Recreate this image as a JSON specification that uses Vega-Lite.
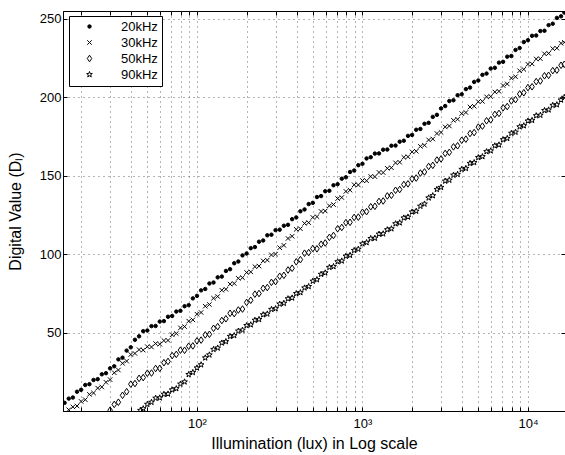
{
"$schema": "https://vega.github.io/schema/vega-lite/v6.json",
"width": 502, "height": 400,
"autosize": "none",
"padding": {"left": 63, "top": 11, "right": 0, "bottom": 44},
"background": "white",
"config": {"font": "Liberation Sans", "view": {"stroke": "black", "strokeWidth": 1}},
"data": {"values": [
{"s":"20kHz","x":15.85,"y":5.2},{"s":"20kHz","x":16.79,"y":7.9},{"s":"20kHz","x":17.78,"y":8.6},{"s":"20kHz","x":18.84,"y":12.3},{"s":"20kHz","x":19.95,"y":13.5},{"s":"20kHz","x":21.13,"y":16.6},{"s":"20kHz","x":22.39,"y":17.1},{"s":"20kHz","x":23.71,"y":19.8},{"s":"20kHz","x":25.12,"y":20.3},{"s":"20kHz","x":26.61,"y":23.4},{"s":"20kHz","x":28.18,"y":24.1},{"s":"20kHz","x":29.85,"y":27.2},{"s":"20kHz","x":31.62,"y":28.5},{"s":"20kHz","x":33.5,"y":32.9},{"s":"20kHz","x":35.48,"y":34.0},{"s":"20kHz","x":37.58,"y":38.5},{"s":"20kHz","x":39.81,"y":40.6},{"s":"20kHz","x":42.17,"y":45.4},{"s":"20kHz","x":44.67,"y":47.6},{"s":"20kHz","x":47.32,"y":50.9},{"s":"20kHz","x":50.12,"y":51.3},{"s":"20kHz","x":53.09,"y":54.1},{"s":"20kHz","x":56.23,"y":54.2},{"s":"20kHz","x":59.57,"y":57.0},{"s":"20kHz","x":63.1,"y":57.3},{"s":"20kHz","x":66.83,"y":60.1},{"s":"20kHz","x":70.79,"y":60.6},{"s":"20kHz","x":74.99,"y":63.4},{"s":"20kHz","x":79.43,"y":63.9},{"s":"20kHz","x":84.14,"y":66.8},{"s":"20kHz","x":89.13,"y":67.5},{"s":"20kHz","x":94.41,"y":71.8},{"s":"20kHz","x":100,"y":73.4},{"s":"20kHz","x":105.9,"y":76.9},{"s":"20kHz","x":112.2,"y":77.8},{"s":"20kHz","x":118.9,"y":81.3},{"s":"20kHz","x":125.9,"y":81.9},{"s":"20kHz","x":133.4,"y":85.2},{"s":"20kHz","x":141.3,"y":85.7},{"s":"20kHz","x":149.6,"y":89.3},{"s":"20kHz","x":158.5,"y":90.4},{"s":"20kHz","x":167.9,"y":94.2},{"s":"20kHz","x":177.8,"y":95.3},{"s":"20kHz","x":188.4,"y":99.2},{"s":"20kHz","x":199.5,"y":100.4},{"s":"20kHz","x":211.3,"y":103.8},{"s":"20kHz","x":223.9,"y":104.5},{"s":"20kHz","x":237.1,"y":107.9},{"s":"20kHz","x":251.2,"y":108.7},{"s":"20kHz","x":266.1,"y":112.0},{"s":"20kHz","x":281.8,"y":112.4},{"s":"20kHz","x":298.5,"y":115.3},{"s":"20kHz","x":316.2,"y":115.6},{"s":"20kHz","x":335.0,"y":118.1},{"s":"20kHz","x":354.8,"y":118.7},{"s":"20kHz","x":375.8,"y":122.3},{"s":"20kHz","x":398.1,"y":123.4},{"s":"20kHz","x":421.7,"y":127.3},{"s":"20kHz","x":446.7,"y":128.5},{"s":"20kHz","x":473.2,"y":131.9},{"s":"20kHz","x":501.2,"y":132.7},{"s":"20kHz","x":530.9,"y":136.4},{"s":"20kHz","x":562.3,"y":137.0},{"s":"20kHz","x":595.7,"y":140.1},{"s":"20kHz","x":631.0,"y":140.4},{"s":"20kHz","x":668.3,"y":143.9},{"s":"20kHz","x":707.9,"y":144.6},{"s":"20kHz","x":749.9,"y":148.1},{"s":"20kHz","x":794.3,"y":149.0},{"s":"20kHz","x":841.4,"y":152.4},{"s":"20kHz","x":891.3,"y":153.3},{"s":"20kHz","x":944.1,"y":156.7},{"s":"20kHz","x":1000,"y":157.6},{"s":"20kHz","x":1059,"y":161.0},{"s":"20kHz","x":1122,"y":161.8},{"s":"20kHz","x":1189,"y":164.1},{"s":"20kHz","x":1259,"y":164.2},{"s":"20kHz","x":1334,"y":166.6},{"s":"20kHz","x":1413,"y":166.7},{"s":"20kHz","x":1496,"y":169.1},{"s":"20kHz","x":1585,"y":169.2},{"s":"20kHz","x":1679,"y":171.7},{"s":"20kHz","x":1778,"y":172.3},{"s":"20kHz","x":1884,"y":175.4},{"s":"20kHz","x":1995,"y":176.0},{"s":"20kHz","x":2113,"y":179.3},{"s":"20kHz","x":2239,"y":179.8},{"s":"20kHz","x":2371,"y":183.1},{"s":"20kHz","x":2512,"y":183.7},{"s":"20kHz","x":2661,"y":187.5},{"s":"20kHz","x":2818,"y":188.8},{"s":"20kHz","x":2985,"y":192.9},{"s":"20kHz","x":3162,"y":194.4},{"s":"20kHz","x":3350,"y":197.6},{"s":"20kHz","x":3548,"y":198.1},{"s":"20kHz","x":3758,"y":201.3},{"s":"20kHz","x":3981,"y":201.9},{"s":"20kHz","x":4217,"y":205.2},{"s":"20kHz","x":4467,"y":206.2},{"s":"20kHz","x":4732,"y":209.8},{"s":"20kHz","x":5012,"y":210.7},{"s":"20kHz","x":5309,"y":214.3},{"s":"20kHz","x":5623,"y":215.1},{"s":"20kHz","x":5957,"y":218.3},{"s":"20kHz","x":6310,"y":218.8},{"s":"20kHz","x":6683,"y":222.1},{"s":"20kHz","x":7079,"y":222.6},{"s":"20kHz","x":7499,"y":225.9},{"s":"20kHz","x":7943,"y":226.3},{"s":"20kHz","x":8414,"y":230.2},{"s":"20kHz","x":8913,"y":231.4},{"s":"20kHz","x":9441,"y":235.2},{"s":"20kHz","x":10000,"y":236.4},{"s":"20kHz","x":10593,"y":239.2},{"s":"20kHz","x":11220,"y":239.4},{"s":"20kHz","x":11885,"y":242.2},{"s":"20kHz","x":12589,"y":242.4},{"s":"20kHz","x":13335,"y":246.0},{"s":"20kHz","x":14125,"y":246.9},{"s":"20kHz","x":14962,"y":250.6},{"s":"20kHz","x":15849,"y":251.6},{"s":"20kHz","x":16596,"y":254.0},
{"s":"30kHz","x":16.79,"y":0.8},{"s":"30kHz","x":17.78,"y":2.6},{"s":"30kHz","x":18.84,"y":3.2},{"s":"30kHz","x":19.95,"y":6.1},{"s":"30kHz","x":21.13,"y":7.2},{"s":"30kHz","x":22.39,"y":10.6},{"s":"30kHz","x":23.71,"y":11.5},{"s":"30kHz","x":25.12,"y":14.6},{"s":"30kHz","x":26.61,"y":15.3},{"s":"30kHz","x":28.18,"y":18.3},{"s":"30kHz","x":29.85,"y":20.0},{"s":"30kHz","x":31.62,"y":24.4},{"s":"30kHz","x":33.5,"y":26.1},{"s":"30kHz","x":35.48,"y":30.4},{"s":"30kHz","x":37.58,"y":31.8},{"s":"30kHz","x":39.81,"y":36.0},{"s":"30kHz","x":42.17,"y":36.7},{"s":"30kHz","x":44.67,"y":39.1},{"s":"30kHz","x":47.32,"y":38.8},{"s":"30kHz","x":50.12,"y":41.0},{"s":"30kHz","x":53.09,"y":40.8},{"s":"30kHz","x":56.23,"y":43.0},{"s":"30kHz","x":59.57,"y":42.6},{"s":"30kHz","x":63.1,"y":44.9},{"s":"30kHz","x":66.83,"y":45.0},{"s":"30kHz","x":70.79,"y":48.6},{"s":"30kHz","x":74.99,"y":49.4},{"s":"30kHz","x":79.43,"y":53.0},{"s":"30kHz","x":84.14,"y":53.8},{"s":"30kHz","x":89.13,"y":57.3},{"s":"30kHz","x":94.41,"y":58.1},{"s":"30kHz","x":100,"y":61.7},{"s":"30kHz","x":105.9,"y":62.8},{"s":"30kHz","x":112.2,"y":66.8},{"s":"30kHz","x":118.9,"y":67.9},{"s":"30kHz","x":125.9,"y":71.9},{"s":"30kHz","x":133.4,"y":73.0},{"s":"30kHz","x":141.3,"y":77.0},{"s":"30kHz","x":149.6,"y":77.6},{"s":"30kHz","x":158.5,"y":80.9},{"s":"30kHz","x":167.9,"y":81.3},{"s":"30kHz","x":177.8,"y":84.6},{"s":"30kHz","x":188.4,"y":85.0},{"s":"30kHz","x":199.5,"y":88.3},{"s":"30kHz","x":211.3,"y":88.7},{"s":"30kHz","x":223.9,"y":92.0},{"s":"30kHz","x":237.1,"y":92.4},{"s":"30kHz","x":251.2,"y":95.7},{"s":"30kHz","x":266.1,"y":96.2},{"s":"30kHz","x":281.8,"y":99.5},{"s":"30kHz","x":298.5,"y":100.0},{"s":"30kHz","x":316.2,"y":104.1},{"s":"30kHz","x":335.0,"y":105.6},{"s":"30kHz","x":354.8,"y":110.0},{"s":"30kHz","x":375.8,"y":111.4},{"s":"30kHz","x":398.1,"y":115.8},{"s":"30kHz","x":421.7,"y":116.2},{"s":"30kHz","x":446.7,"y":119.6},{"s":"30kHz","x":473.2,"y":120.1},{"s":"30kHz","x":501.2,"y":123.4},{"s":"30kHz","x":530.9,"y":123.9},{"s":"30kHz","x":562.3,"y":127.2},{"s":"30kHz","x":595.7,"y":127.5},{"s":"30kHz","x":631.0,"y":130.8},{"s":"30kHz","x":668.3,"y":131.6},{"s":"30kHz","x":707.9,"y":135.4},{"s":"30kHz","x":749.9,"y":136.1},{"s":"30kHz","x":794.3,"y":140.0},{"s":"30kHz","x":841.4,"y":140.8},{"s":"30kHz","x":891.3,"y":144.2},{"s":"30kHz","x":944.1,"y":144.1},{"s":"30kHz","x":1000,"y":146.9},{"s":"30kHz","x":1059,"y":146.8},{"s":"30kHz","x":1122,"y":149.5},{"s":"30kHz","x":1189,"y":149.4},{"s":"30kHz","x":1259,"y":152.1},{"s":"30kHz","x":1334,"y":152.0},{"s":"30kHz","x":1413,"y":154.7},{"s":"30kHz","x":1496,"y":155.1},{"s":"30kHz","x":1585,"y":158.2},{"s":"30kHz","x":1679,"y":158.6},{"s":"30kHz","x":1778,"y":161.7},{"s":"30kHz","x":1884,"y":162.1},{"s":"30kHz","x":1995,"y":165.2},{"s":"30kHz","x":2113,"y":165.6},{"s":"30kHz","x":2239,"y":168.7},{"s":"30kHz","x":2371,"y":169.4},{"s":"30kHz","x":2512,"y":172.8},{"s":"30kHz","x":2661,"y":173.4},{"s":"30kHz","x":2818,"y":176.9},{"s":"30kHz","x":2985,"y":177.6},{"s":"30kHz","x":3162,"y":181.1},{"s":"30kHz","x":3350,"y":181.7},{"s":"30kHz","x":3548,"y":185.3},{"s":"30kHz","x":3758,"y":186.0},{"s":"30kHz","x":3981,"y":189.6},{"s":"30kHz","x":4217,"y":190.3},{"s":"30kHz","x":4467,"y":193.8},{"s":"30kHz","x":4732,"y":194.3},{"s":"30kHz","x":5012,"y":197.2},{"s":"30kHz","x":5309,"y":197.4},{"s":"30kHz","x":5623,"y":200.3},{"s":"30kHz","x":5957,"y":200.5},{"s":"30kHz","x":6310,"y":203.4},{"s":"30kHz","x":6683,"y":203.8},{"s":"30kHz","x":7079,"y":207.5},{"s":"30kHz","x":7499,"y":208.5},{"s":"30kHz","x":7943,"y":212.2},{"s":"30kHz","x":8414,"y":213.1},{"s":"30kHz","x":8913,"y":216.9},{"s":"30kHz","x":9441,"y":217.8},{"s":"30kHz","x":10000,"y":221.0},{"s":"30kHz","x":10593,"y":221.3},{"s":"30kHz","x":11220,"y":224.4},{"s":"30kHz","x":11885,"y":224.6},{"s":"30kHz","x":12589,"y":227.7},{"s":"30kHz","x":13335,"y":228.0},{"s":"30kHz","x":14125,"y":231.0},{"s":"30kHz","x":14962,"y":231.3},{"s":"30kHz","x":15849,"y":234.4},{"s":"30kHz","x":16596,"y":235.0},
{"s":"50kHz","x":29.85,"y":0.5},{"s":"50kHz","x":31.62,"y":4.2},{"s":"50kHz","x":33.5,"y":5.6},{"s":"50kHz","x":35.48,"y":10.0},{"s":"50kHz","x":37.58,"y":12.3},{"s":"50kHz","x":39.81,"y":17.1},{"s":"50kHz","x":42.17,"y":17.5},{"s":"50kHz","x":44.67,"y":20.8},{"s":"50kHz","x":47.32,"y":21.3},{"s":"50kHz","x":50.12,"y":24.1},{"s":"50kHz","x":53.09,"y":24.2},{"s":"50kHz","x":56.23,"y":27.1},{"s":"50kHz","x":59.57,"y":27.2},{"s":"50kHz","x":63.1,"y":30.8},{"s":"50kHz","x":66.83,"y":31.6},{"s":"50kHz","x":70.79,"y":35.3},{"s":"50kHz","x":74.99,"y":36.1},{"s":"50kHz","x":79.43,"y":38.8},{"s":"50kHz","x":84.14,"y":38.7},{"s":"50kHz","x":89.13,"y":41.3},{"s":"50kHz","x":94.41,"y":41.5},{"s":"50kHz","x":100,"y":44.7},{"s":"50kHz","x":105.9,"y":45.2},{"s":"50kHz","x":112.2,"y":48.5},{"s":"50kHz","x":118.9,"y":48.9},{"s":"50kHz","x":125.9,"y":52.7},{"s":"50kHz","x":133.4,"y":53.8},{"s":"50kHz","x":141.3,"y":57.7},{"s":"50kHz","x":149.6,"y":58.8},{"s":"50kHz","x":158.5,"y":62.3},{"s":"50kHz","x":167.9,"y":62.1},{"s":"50kHz","x":177.8,"y":64.4},{"s":"50kHz","x":188.4,"y":65.0},{"s":"50kHz","x":199.5,"y":69.2},{"s":"50kHz","x":211.3,"y":70.6},{"s":"50kHz","x":223.9,"y":74.5},{"s":"50kHz","x":237.1,"y":74.9},{"s":"50kHz","x":251.2,"y":78.2},{"s":"50kHz","x":266.1,"y":78.7},{"s":"50kHz","x":281.8,"y":82.0},{"s":"50kHz","x":298.5,"y":82.5},{"s":"50kHz","x":316.2,"y":85.9},{"s":"50kHz","x":335.0,"y":86.5},{"s":"50kHz","x":354.8,"y":89.9},{"s":"50kHz","x":375.8,"y":91.0},{"s":"50kHz","x":398.1,"y":95.1},{"s":"50kHz","x":421.7,"y":96.5},{"s":"50kHz","x":446.7,"y":100.6},{"s":"50kHz","x":473.2,"y":101.0},{"s":"50kHz","x":501.2,"y":103.6},{"s":"50kHz","x":530.9,"y":103.4},{"s":"50kHz","x":562.3,"y":106.3},{"s":"50kHz","x":595.7,"y":107.1},{"s":"50kHz","x":631.0,"y":110.7},{"s":"50kHz","x":668.3,"y":111.9},{"s":"50kHz","x":707.9,"y":116.2},{"s":"50kHz","x":749.9,"y":117.0},{"s":"50kHz","x":794.3,"y":120.1},{"s":"50kHz","x":841.4,"y":120.3},{"s":"50kHz","x":891.3,"y":123.4},{"s":"50kHz","x":944.1,"y":123.6},{"s":"50kHz","x":1000,"y":126.7},{"s":"50kHz","x":1059,"y":127.1},{"s":"50kHz","x":1122,"y":130.2},{"s":"50kHz","x":1189,"y":130.5},{"s":"50kHz","x":1259,"y":133.6},{"s":"50kHz","x":1334,"y":133.9},{"s":"50kHz","x":1413,"y":137.1},{"s":"50kHz","x":1496,"y":137.5},{"s":"50kHz","x":1585,"y":140.7},{"s":"50kHz","x":1679,"y":141.2},{"s":"50kHz","x":1778,"y":144.4},{"s":"50kHz","x":1884,"y":144.8},{"s":"50kHz","x":1995,"y":148.0},{"s":"50kHz","x":2113,"y":148.5},{"s":"50kHz","x":2239,"y":151.7},{"s":"50kHz","x":2371,"y":152.4},{"s":"50kHz","x":2512,"y":155.9},{"s":"50kHz","x":2661,"y":156.6},{"s":"50kHz","x":2818,"y":160.0},{"s":"50kHz","x":2985,"y":160.7},{"s":"50kHz","x":3162,"y":164.2},{"s":"50kHz","x":3350,"y":164.9},{"s":"50kHz","x":3548,"y":168.4},{"s":"50kHz","x":3758,"y":169.1},{"s":"50kHz","x":3981,"y":172.6},{"s":"50kHz","x":4217,"y":173.3},{"s":"50kHz","x":4467,"y":176.9},{"s":"50kHz","x":4732,"y":177.5},{"s":"50kHz","x":5012,"y":181.0},{"s":"50kHz","x":5309,"y":181.6},{"s":"50kHz","x":5623,"y":185.0},{"s":"50kHz","x":5957,"y":185.6},{"s":"50kHz","x":6310,"y":189.1},{"s":"50kHz","x":6683,"y":189.7},{"s":"50kHz","x":7079,"y":193.3},{"s":"50kHz","x":7499,"y":194.1},{"s":"50kHz","x":7943,"y":197.7},{"s":"50kHz","x":8414,"y":198.5},{"s":"50kHz","x":8913,"y":202.1},{"s":"50kHz","x":9441,"y":202.9},{"s":"50kHz","x":10000,"y":206.2},{"s":"50kHz","x":10593,"y":206.7},{"s":"50kHz","x":11220,"y":210.0},{"s":"50kHz","x":11885,"y":210.4},{"s":"50kHz","x":12589,"y":213.7},{"s":"50kHz","x":13335,"y":214.0},{"s":"50kHz","x":14125,"y":217.0},{"s":"50kHz","x":14962,"y":217.3},{"s":"50kHz","x":15849,"y":220.4},{"s":"50kHz","x":16596,"y":221.0},
{"s":"90kHz","x":45.5,"y":0.4},{"s":"90kHz","x":47.32,"y":1.5},{"s":"90kHz","x":50.12,"y":4.3},{"s":"90kHz","x":53.09,"y":5.6},{"s":"90kHz","x":56.23,"y":8.2},{"s":"90kHz","x":59.57,"y":8.4},{"s":"90kHz","x":63.1,"y":10.7},{"s":"90kHz","x":66.83,"y":10.9},{"s":"90kHz","x":70.79,"y":13.5},{"s":"90kHz","x":74.99,"y":14.3},{"s":"90kHz","x":79.43,"y":17.2},{"s":"90kHz","x":84.14,"y":18.6},{"s":"90kHz","x":89.13,"y":23.3},{"s":"90kHz","x":94.41,"y":24.6},{"s":"90kHz","x":100,"y":27.5},{"s":"90kHz","x":105.9,"y":29.5},{"s":"90kHz","x":112.2,"y":33.9},{"s":"90kHz","x":118.9,"y":35.8},{"s":"90kHz","x":125.9,"y":39.3},{"s":"90kHz","x":133.4,"y":40.2},{"s":"90kHz","x":141.3,"y":43.4},{"s":"90kHz","x":149.6,"y":44.3},{"s":"90kHz","x":158.5,"y":47.6},{"s":"90kHz","x":167.9,"y":48.1},{"s":"90kHz","x":177.8,"y":51.0},{"s":"90kHz","x":188.4,"y":51.6},{"s":"90kHz","x":199.5,"y":54.5},{"s":"90kHz","x":211.3,"y":55.0},{"s":"90kHz","x":223.9,"y":57.9},{"s":"90kHz","x":237.1,"y":58.4},{"s":"90kHz","x":251.2,"y":61.4},{"s":"90kHz","x":266.1,"y":61.9},{"s":"90kHz","x":281.8,"y":64.8},{"s":"90kHz","x":298.5,"y":65.3},{"s":"90kHz","x":316.2,"y":68.2},{"s":"90kHz","x":335.0,"y":68.7},{"s":"90kHz","x":354.8,"y":71.6},{"s":"90kHz","x":375.8,"y":72.1},{"s":"90kHz","x":398.1,"y":74.9},{"s":"90kHz","x":421.7,"y":75.5},{"s":"90kHz","x":446.7,"y":78.5},{"s":"90kHz","x":473.2,"y":79.4},{"s":"90kHz","x":501.2,"y":82.8},{"s":"90kHz","x":530.9,"y":83.8},{"s":"90kHz","x":562.3,"y":87.2},{"s":"90kHz","x":595.7,"y":88.1},{"s":"90kHz","x":631.0,"y":91.6},{"s":"90kHz","x":668.3,"y":92.1},{"s":"90kHz","x":707.9,"y":95.2},{"s":"90kHz","x":749.9,"y":95.7},{"s":"90kHz","x":794.3,"y":98.7},{"s":"90kHz","x":841.4,"y":99.3},{"s":"90kHz","x":891.3,"y":102.4},{"s":"90kHz","x":944.1,"y":103.2},{"s":"90kHz","x":1000,"y":106.6},{"s":"90kHz","x":1059,"y":107.4},{"s":"90kHz","x":1122,"y":110.0},{"s":"90kHz","x":1189,"y":110.2},{"s":"90kHz","x":1259,"y":112.8},{"s":"90kHz","x":1334,"y":113.0},{"s":"90kHz","x":1413,"y":115.6},{"s":"90kHz","x":1496,"y":116.2},{"s":"90kHz","x":1585,"y":119.4},{"s":"90kHz","x":1679,"y":120.0},{"s":"90kHz","x":1778,"y":123.1},{"s":"90kHz","x":1884,"y":123.7},{"s":"90kHz","x":1995,"y":126.9},{"s":"90kHz","x":2113,"y":127.4},{"s":"90kHz","x":2239,"y":130.6},{"s":"90kHz","x":2371,"y":132.0},{"s":"90kHz","x":2512,"y":135.9},{"s":"90kHz","x":2661,"y":137.3},{"s":"90kHz","x":2818,"y":141.3},{"s":"90kHz","x":2985,"y":142.6},{"s":"90kHz","x":3162,"y":146.6},{"s":"90kHz","x":3350,"y":147.2},{"s":"90kHz","x":3548,"y":150.4},{"s":"90kHz","x":3758,"y":150.9},{"s":"90kHz","x":3981,"y":154.1},{"s":"90kHz","x":4217,"y":154.7},{"s":"90kHz","x":4467,"y":157.9},{"s":"90kHz","x":4732,"y":158.4},{"s":"90kHz","x":5012,"y":161.6},{"s":"90kHz","x":5309,"y":162.2},{"s":"90kHz","x":5623,"y":165.4},{"s":"90kHz","x":5957,"y":165.9},{"s":"90kHz","x":6310,"y":169.1},{"s":"90kHz","x":6683,"y":169.7},{"s":"90kHz","x":7079,"y":173.0},{"s":"90kHz","x":7499,"y":173.8},{"s":"90kHz","x":7943,"y":177.1},{"s":"90kHz","x":8414,"y":177.8},{"s":"90kHz","x":8913,"y":181.2},{"s":"90kHz","x":9441,"y":181.9},{"s":"90kHz","x":10000,"y":184.9},{"s":"90kHz","x":10593,"y":185.3},{"s":"90kHz","x":11220,"y":188.3},{"s":"90kHz","x":11885,"y":188.6},{"s":"90kHz","x":12589,"y":191.6},{"s":"90kHz","x":13335,"y":192.0},{"s":"90kHz","x":14125,"y":194.9},{"s":"90kHz","x":14962,"y":195.3},{"s":"90kHz","x":15849,"y":198.3},{"s":"90kHz","x":16596,"y":200.0}
]},
"layer": [
{
"mark": {"type": "point", "strokeWidth": 1, "opacity": 1, "clip": true},
"encoding": {
  "x": {"field": "x", "type": "quantitative",
    "scale": {"type": "log", "domain": [15.5, 16750], "nice": false},
    "axis": {"title": "Illumination (lux) in Log scale", "titleFontSize": 16, "titleFontWeight": "normal", "titleColor": "black", "titlePadding": 5,
      "values": [20,30,40,50,60,70,80,90,100,200,300,400,500,600,700,800,900,1000,2000,3000,4000,5000,6000,7000,8000,9000,10000],
      "labelExpr": "datum.value == 100 ? '10²' : datum.value == 1000 ? '10³' : datum.value == 10000 ? '10⁴' : ''",
      "labelFontSize": 13, "labelColor": "black", "labelPadding": 10, "labelFlush": false, "labelOverlap": false,
      "tickSize": -4, "tickColor": "black", "domainColor": "black",
      "grid": true, "gridColor": "#444", "gridDash": [1, 4], "gridWidth": 0.8}},
  "y": {"field": "y", "type": "quantitative",
    "scale": {"domain": [0, 255], "nice": false},
    "axis": {"title": "Digital Value (Dₗ)", "titleFontSize": 16, "titleFontWeight": "normal", "titleColor": "black", "titlePadding": 16,
      "values": [50, 100, 150, 200, 250],
      "labelFontSize": 13, "labelColor": "black", "labelPadding": 6,
      "tickSize": -4, "tickColor": "black", "domainColor": "black",
      "grid": true, "gridColor": "#444", "gridDash": [1, 4], "gridWidth": 0.8}},
  "shape": {"field": "s", "type": "nominal",
    "scale": {"domain": ["20kHz", "30kHz", "50kHz", "90kHz"],
      "range": ["circle", "M-1,-1L1,1M-1,1L1,-1", "M0,-1.25L0.85,0L0,1.25L-0.85,0Z", "M0,-1L0.235,-0.324L0.951,-0.309L0.38,0.124L0.588,0.809L0,0.4L-0.588,0.809L-0.38,0.124L-0.951,-0.309L-0.235,-0.324Z"]},
    "legend": {"title": null, "orient": "none", "legendX": 6, "legendY": 5, "direction": "vertical",
      "strokeColor": "black", "fillColor": "white", "padding": 4, "labelFontSize": 13, "labelColor": "black",
      "symbolStrokeColor": "black", "symbolStrokeWidth": 1, "symbolOffset": 10, "labelOffset": 25, "rowPadding": 2}},
  "fill": {"field": "s", "type": "nominal",
    "scale": {"domain": ["20kHz", "30kHz", "50kHz", "90kHz"], "range": ["black", "transparent", "transparent", "transparent"]}},
  "size": {"field": "s", "type": "nominal",
    "scale": {"domain": ["20kHz", "30kHz", "50kHz", "90kHz"], "range": [12, 36, 50, 60]}},
  "stroke": {"value": "black"}
}
},
{
"mark": {"type": "point", "opacity": 0},
"encoding": {
  "x": {"field": "x", "type": "quantitative",
    "axis": {"orient": "top", "title": null, "labels": false, "grid": false, "domain": false,
      "values": [20,30,40,50,60,70,80,90,100,200,300,400,500,600,700,800,900,1000,2000,3000,4000,5000,6000,7000,8000,9000,10000],
      "tickSize": -4, "tickColor": "black"}},
  "y": {"field": "y", "type": "quantitative",
    "axis": {"orient": "right", "title": null, "labels": false, "grid": false, "domain": false,
      "values": [50, 100, 150, 200, 250], "tickSize": -4, "tickColor": "black"}}
}
}
],
"resolve": {"axis": {"x": "independent", "y": "independent"}}
}
